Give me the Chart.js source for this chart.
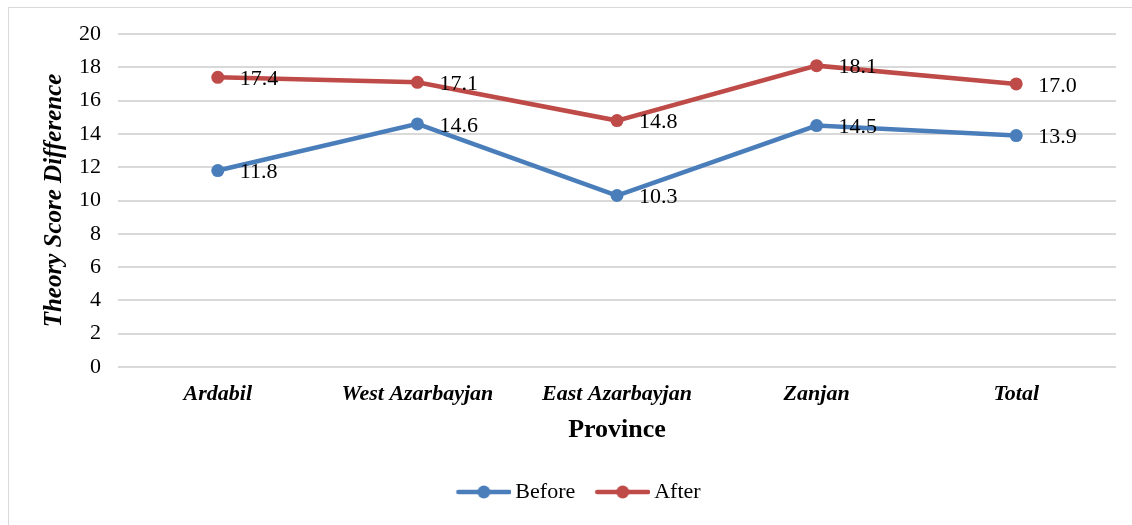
<!DOCTYPE html>
<html>
<head>
<meta charset="utf-8">
<script src="https://cdn.jsdelivr.net/npm/chart.js@4.4.1/dist/chart.umd.min.js"></script>
<style>
    html, body { margin: 0; padding: 0; background: #fff; }
    #wrap { position: relative; width: 1132px; height: 525px; overflow: hidden; }
    #frame { position: absolute; left: 8px; top: 7px; width: 1200px; height: 600px; border-left: 1.5px solid #d9d9d9; border-top: 1.5px solid #d9d9d9; }
    #chart { position: absolute; left: 0; top: 0; }
</style>
</head>
<body>
<div id="wrap">
    <div id="frame"></div>
    <canvas id="chart" width="1132" height="525"></canvas>
</div>
<script>
var provinces = ['Ardabil', 'West Azarbayjan', 'East Azarbayjan', 'Zanjan', 'Total'];
var beforeValues = [11.8, 14.6, 10.3, 14.5, 13.9];
var afterValues = [17.4, 17.1, 14.8, 18.1, 17.0];
var yTicks = [0, 2, 4, 6, 8, 10, 12, 14, 16, 18, 20];

var BLUE = '#4a7ebb';
var RED = '#be4b48';
var SERIF = '"Liberation Serif", "Times New Roman", serif';

// legend marker: a short line with a dot in the middle
// (drawn shifted right inside the image so the label sits closer to it)
function legendIcon(color) {
    var c = document.createElement('canvas');
    c.width = 68; c.height = 16;
    var g = c.getContext('2d');
    g.strokeStyle = color;
    g.lineWidth = 4.5;
    g.lineCap = 'round';
    g.beginPath(); g.moveTo(15, 8); g.lineTo(66, 8); g.stroke();
    g.fillStyle = color;
    g.beginPath(); g.arc(40.5, 8, 6.5, 0, Math.PI * 2); g.fill();
    return c;
}

// value labels to the right of each point
var valueLabels = {
    id: 'valueLabels',
    afterDatasetsDraw: function (chart) {
        var ctx = chart.ctx;
        ctx.save();
        ctx.font = '22px ' + SERIF;
        ctx.fillStyle = '#000';
        ctx.textBaseline = 'middle';
        ctx.textAlign = 'left';
        chart.data.datasets.forEach(function (ds, i) {
            chart.getDatasetMeta(i).data.forEach(function (pt, j) {
                ctx.fillText(ds.data[j].toFixed(1), pt.x + 22, pt.y + 2);
            });
        });
        ctx.restore();
    }
};

var ctx = document.getElementById('chart').getContext('2d');
new Chart(ctx, {
    type: 'line',
    data: {
        labels: provinces,
        datasets: [{
            label: 'Before',
            data: beforeValues,
            borderColor: BLUE,
            backgroundColor: BLUE,
            borderWidth: 4.5,
            pointRadius: 6.5,
            pointBackgroundColor: BLUE,
            pointBorderWidth: 0,
            tension: 0
        }, {
            label: 'After',
            data: afterValues,
            borderColor: RED,
            backgroundColor: RED,
            borderWidth: 4.5,
            pointRadius: 6.5,
            pointBackgroundColor: RED,
            pointBorderWidth: 0,
            tension: 0
        }]
    },
    options: {
        responsive: false,
        animation: false,
        layout: { padding: { left: 35, right: 16, top: 34, bottom: 12 } },
        plugins: {
            legend: {
                position: 'bottom',
                labels: {
                    usePointStyle: true,
                    pointStyleWidth: 54,
                    boxHeight: 16,
                    color: '#000',
                    font: { family: SERIF, size: 22 },
                    padding: 14,
                    generateLabels: function (chart) {
                        return chart.data.datasets.map(function (ds, i) {
                            return {
                                text: ds.label,
                                pointStyle: legendIcon(ds.borderColor),
                                fillStyle: ds.borderColor,
                                strokeStyle: ds.borderColor,
                                lineWidth: 0,
                                fontColor: '#000',
                                datasetIndex: i
                            };
                        });
                    }
                }
            },
            tooltip: { enabled: false }
        },
        scales: {
            x: {
                offset: true,
                grid: { display: false, drawTicks: false },
                border: { display: false },
                ticks: {
                    color: '#000',
                    padding: 14,
                    font: { family: SERIF, size: 22, style: 'italic', weight: 'bold' }
                },
                title: {
                    display: true,
                    text: 'Province',
                    color: '#000',
                    padding: { top: 2, bottom: 21 },
                    font: { family: SERIF, size: 26, weight: 'bold' }
                },
                afterFit: function (scale) { scale.height = 100; }
            },
            y: {
                min: 0,
                max: 20,
                afterBuildTicks: function (scale) {
                    scale.ticks = yTicks.map(function (v) { return { value: v }; });
                },
                grid: { color: '#d9d9d9', lineWidth: 2, drawTicks: false },
                border: { display: false },
                ticks: {
                    color: '#000',
                    padding: 17,
                    font: { family: SERIF, size: 22 }
                },
                title: {
                    display: true,
                    text: 'Theory Score Difference',
                    color: '#000',
                    padding: { top: 5, bottom: 0 },
                    font: { family: SERIF, size: 25, style: 'italic', weight: 'bold' }
                },
                afterFit: function (scale) { scale.width = 83; }
            }
        }
    },
    plugins: [valueLabels]
});
</script>
</body>
</html>
